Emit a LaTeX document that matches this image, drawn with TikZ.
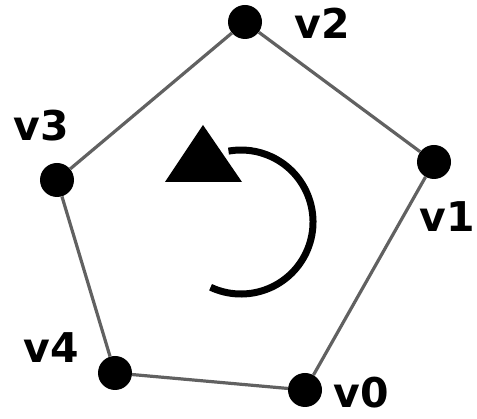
\documentclass[tikz,border=0pt]{standalone}
\usepackage{fontspec}
\setmainfont{DejaVu Sans}
\begin{document}
\begin{tikzpicture}[x=1pt,y=1pt,
  vertex/.style={circle,fill=black,inner sep=0pt,minimum size=34pt},
  edge/.style={draw=black!62,line width=3.2pt},
  vlabel/.style={inner sep=0pt,font=\fontsize{41}{41}\selectfont\bfseries},
  turn/.style={line width=7pt,black}]
\useasboundingbox (0,0) rectangle (477,419);
% polygon corners
\node[vertex] (v0) at (305,29) {};
\node[vertex] (v1) at (434,257) {};
\node[vertex] (v2) at (245,397) {};
\node[vertex] (v3) at (57,239) {};
\node[vertex] (v4) at (115,46) {};
% sides
\draw[edge] (v0) -- (v1);
\draw[edge] (v1) -- (v2);
\draw[edge] (v2) -- (v3);
\draw[edge] (v3) -- (v4);
\draw[edge] (v4) -- (v0);
% corner labels
\node[vlabel] (l0) at (361,26) {v0};
\node[vlabel] (l1) at (447,202) {v1};
\node[vlabel] (l2) at (322,396) {v2};
\node[vlabel] (l3) at (41,293) {v3};
\node[vlabel] (l4) at (51,71) {v4};
% counter-clockwise orientation marker
\coordinate (c) at (241,197);
\draw[turn] ([shift={(-115:72)}]c) arc[start angle=-115,end angle=100,radius=72];
\fill[black] (203,294) -- (165,237) -- (242,237) -- cycle;
\end{tikzpicture}
\end{document}
